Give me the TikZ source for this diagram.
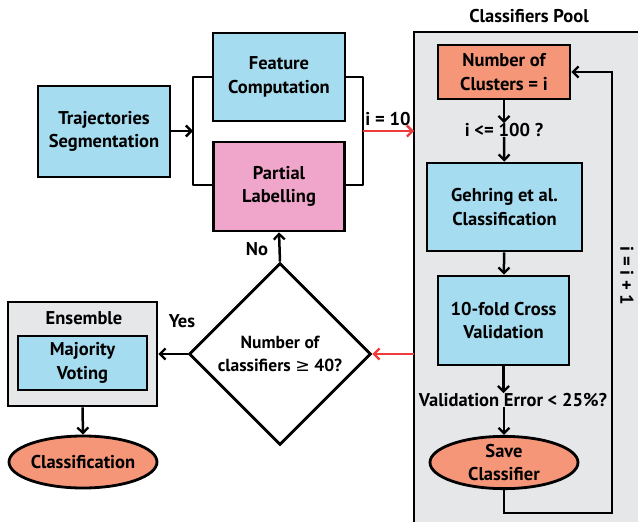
\documentclass[tikz,border=0pt]{standalone}
\usepackage{fontspec}
\setmainfont{PT Sans}
\newfontfamily\symfont{DejaVu Sans}
\usetikzlibrary{arrows.meta,shapes.geometric}
\definecolor{boxblue}{HTML}{A6DCF0}
\definecolor{boxpink}{HTML}{F0A6CA}
\definecolor{boxsalmon}{HTML}{F59679}
\definecolor{poolgray}{HTML}{E6E7E9}
\definecolor{flowred}{HTML}{EE3B3B}
\begin{document}
\begin{tikzpicture}[x=1pt,y=-1pt,
  txt/.style={font=\bfseries\fontsize{18.5}{23.5}\selectfont, align=center, inner sep=0},
  box/.style={txt, draw, line width=2.8pt, minimum width=#1},
  rbox/.style={box=#1, rectangle},
  oval/.style={txt, draw, line width=2.8pt, ellipse, fill=boxsalmon, inner sep=0},
  arr/.style={line width=2.5pt, -{Straight Barb[length=5.5pt,width=11pt,line width=2.3pt]}},
  redarr/.style={arr, draw=flowred},
  link/.style={line width=2.8pt},
  lbl/.style={txt}]
\useasboundingbox (0,0) rectangle (638,522);

% Classifiers pool panel
\node[txt] (pooltitle) at (529,16) {Classifiers Pool};
\path[fill=poolgray, draw, line width=2.8pt] (414,32) rectangle (650,540);

% Left column
\node[rbox=132, minimum height=91, fill=boxblue] (traj) at (104,131.5) {Trajectories\\Segmentation};
\node[rbox=132, minimum height=88, fill=boxblue] (feat) at (279,77) {Feature\\Computation};
\node[rbox=131, minimum height=89, fill=boxpink] (part) at (279,186.5) {Partial\\Labelling};

% bracket grouping the two parallel steps
\coordinate (bl) at (193,131);
\coordinate (br) at (363,131);
\draw[link, line join=round] (feat.west|-0,77) -- (193,77) -- (193,185) -- (part.west|-0,185);
\draw[link, line join=round] (feat.east|-0,77) -- (363,77) -- (363,185) -- (part.east|-0,185);
\draw[arr] (traj.east|-bl) -- (bl);

% Pool contents
\node[rbox=132, minimum height=54, fill=boxsalmon] (nclu) at (504,72) {Number of\\Clusters = i};
\node[lbl] (cond1) at (504,130) {i <= 100 ?};
\node[rbox=155, minimum height=88, fill=boxblue] (gehr) at (504.5,207) {Gehring et al.\\Classification};
\node[rbox=131, minimum height=89, fill=boxblue] (cv) at (503.5,320.5) {10-fold Cross\\Validation};
\node[lbl] (cond2) at (513,400) {Validation Error < 25\%?};
\node[oval, minimum width=148, minimum height=51] (save) at (504,462.5) {Save\\Classifier};

\draw[arr] (nclu) -- (cond1);
\draw[arr] (cond1) -- (gehr);
\draw[arr] (gehr) -- (cv);
\draw[arr] (cv) -- (cv.south|-cond2.north);
\draw[arr] (save.north|-cond2.south) -- (save);
\coordinate (lp1) at (504,513);
\coordinate (lp2) at (612,513);
\coordinate (lp3) at (612,72);
\draw[arr, line width=2.8pt] (save.south) -- (lp1) -- (lp2) -- (lp3) -- (nclu.east);
\node[lbl, rotate=-90] (inc) at (627,276) {i = i + 1};

% entry into the pool
\coordinate (poolin) at (414,131);
\draw[redarr] (br) -- (poolin);
\node[lbl, anchor=south] (ilbl) at (388,126) {i = 10};

% Decision
\node[draw, line width=2.8pt, diamond, minimum width=182, minimum height=182, inner sep=0,
      font=\bfseries\fontsize{17.5}{23.5}\selectfont, align=center, fill=white] (dec) at (280,354)
      {Number of\\classifiers {\symfont\mdseries ≥} 40?};
\coordinate (poolout) at (414,354);
\draw[redarr] (poolout) -- (dec.east);
\draw[arr] (dec.north) -- (part.south);
\node[lbl] (no) at (257,249) {No};

% Ensemble
\node[draw, line width=2.8pt, fill=poolgray, minimum width=149, minimum height=104, inner sep=0] (ens) at (82.5,354) {};
\node[txt] (enstitle) at (84,318) {Ensemble};
\node[rbox=129, minimum height=54, fill=boxblue] (maj) at (82.5,363) {Majority\\Voting};
\draw[arr] (dec.west) -- (ens.east);
\node[lbl] (yes) at (182,321) {Yes};
\node[oval, minimum width=148, minimum height=52] (cls) at (83,462) {Classification};
\draw[arr] (ens.south) -- (cls.north);
\end{tikzpicture}
\end{document}
